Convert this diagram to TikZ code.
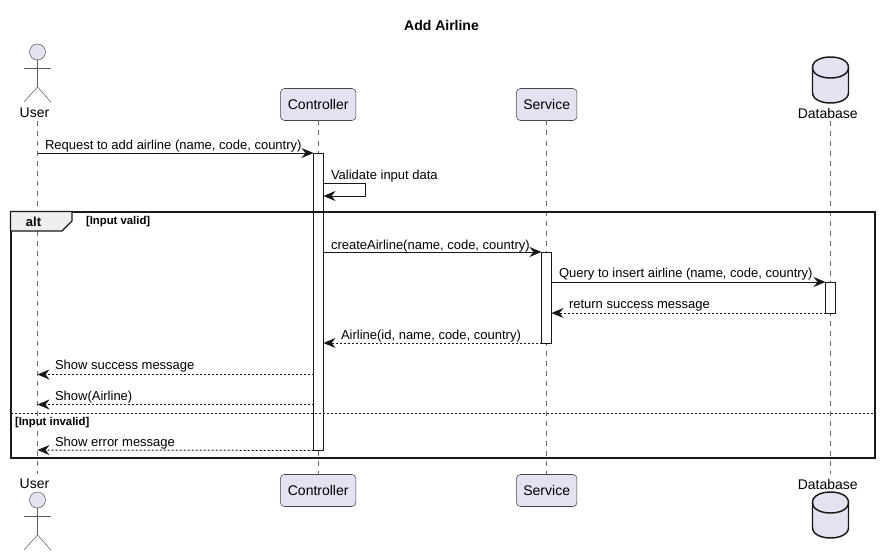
\documentclass[tikz,border=0pt]{standalone}
\usepackage{fontspec}
\setmainfont{Liberation Sans}
\usetikzlibrary{arrows.meta}
\definecolor{pfill}{HTML}{E2E2F0}
\definecolor{pline}{HTML}{181818}
\definecolor{tabfill}{HTML}{EEEEEE}
\newcommand{\msgfont}{\fontsize{9.75}{11}\selectfont}
\newcommand{\partfont}{\fontsize{10.5}{12}\selectfont}
\newcommand{\boldfont}{\fontsize{8.5}{10}\selectfont\bfseries}
\tikzset{
  x=0.75pt,y=-0.75pt,
  every node/.style={inner sep=0pt,outer sep=0pt,text=black},
  part/.style={draw=pline!80,fill=pfill,rounded corners=3pt,line width=0.4pt,minimum height=24pt,font=\partfont},
  lbl/.style={font=\msgfont,anchor=base west},
  partlabel/.style={font=\partfont},
  life/.style={draw=pline!65,line width=0.4pt,dash pattern=on 3.75pt off 3.75pt},
  actv/.style={draw=pline,fill=white,line width=0.75pt,minimum width=7.5pt,anchor=north},
  sync/.style={draw=pline,line width=0.75pt,-{Stealth[length=9pt,width=7.5pt,inset=3pt]}},
  ret/.style={sync,dash pattern=on 1.5pt off 1.5pt},
  actorline/.style={draw=pline!70,line width=0.4pt},
  dbshape/.style={draw=pline,fill=pfill,line width=1.1pt},
  frameline/.style={draw=pline,line width=1.5pt},
}
\newcommand{\stick}[3]{% x, head y, name prefix
  \node[circle,draw=pline!70,fill=pfill,line width=0.4pt,minimum size=12pt] (#3) at (#1,#2) {};
  \draw[actorline] (#3.south) -- ++(0,27) -- ++(-13.5,15);
  \draw[actorline] (#3.south) ++(0,27) -- ++(13.5,15);
  \draw[actorline] (#1-13.5,#2+16) -- (#1+13.5,#2+16);
}
\newcommand{\cyl}[2]{% centre x, top y of body
  \draw[dbshape] (#1-18,#2+10.5) .. controls (#1-18,#2-3.5) and (#1+18,#2-3.5) .. (#1+18,#2+10.5)
    -- (#1+18,#2+35.5) .. controls (#1+18,#2+49.5) and (#1-18,#2+49.5) .. (#1-18,#2+35.5) -- cycle;
  \draw[dbshape,fill=none] (#1-18,#2+10.5) .. controls (#1-18,#2+24.5) and (#1+18,#2+24.5) .. (#1+18,#2+10.5);
}
\begin{document}
\begin{tikzpicture}
\useasboundingbox (0,0) rectangle (880,556);
\fill[white] (0,0) rectangle (880,556);
\node[font=\fontsize{10.5}{12}\selectfont\bfseries] (title) at (441.5,25) {Add Airline};

% participant labels and boxes
\node[partlabel] (Utop) at (34.5,113) {User};
\node[part,minimum width=56.6pt] (Ctop) at (318.2,104.5) {Controller};
\node[part,minimum width=45.4pt] (Stop) at (546.7,104.5) {Service};
\node[partlabel] (Dtop) at (827.8,113) {Database};
\node[partlabel] (Ubot) at (34.5,484) {User};
\node[part,minimum width=56.6pt] (Cbot) at (318.2,490.5) {Controller};
\node[part,minimum width=45.4pt] (Sbot) at (546.7,490.5) {Service};
\node[partlabel] (Dbot) at (827.8,484) {Database};

% lifelines
\coordinate (ul1) at (37.5,121); \coordinate (ul2) at (37.5,474);
\coordinate (dl1) at (830.5,121); \coordinate (dl2) at (830.5,474);
\draw[life] (ul1) -- (ul2);
\draw[life] (Ctop.south) -- (Cbot.north);
\draw[life] (Stop.south) -- (Sbot.north);
\draw[life] (dl1) -- (dl2);

% actors and databases
\stick{37.5}{52}{uhead}
\stick{37.5}{500}{uheadb}
\cyl{830.5}{57}
\cyl{830.5}{492}

% activations
\node[actv,minimum height=223pt] (Ca) at (318.5,153) {};
\node[actv,minimum height=68.25pt] (Sa) at (546.5,252) {};
\node[actv,minimum height=23.25pt] (Da) at (830.5,282) {};

% frame
\draw[frameline] (10.5,211.5) rectangle (875,458);
\draw[frameline,fill=tabfill,line width=1pt] (10.5,211.5) -- (72,211.5) -- (72,221) -- (62,231) -- (10.5,231) -- cycle;
\node[font=\fontsize{9.75}{11}\selectfont\bfseries] (alt) at (33.5,221.5) {alt};
\node[font=\boldfont,anchor=base west] (g1) at (86,224) {[Input valid]};
\coordinate (el) at (10.5,413.5); \coordinate (er) at (875,413.5);
\draw[draw=pline,line width=0.75pt,dash pattern=on 1.5pt off 1.5pt] (el) -- (er);
\node[font=\boldfont,anchor=base west] (g2) at (15,425) {[Input invalid]};

% messages
\coordinate (m1a) at (37.5,153);
\draw[sync] (m1a) -- (Ca.north west);
\node[lbl] (t1) at (45,149) {Request to add airline (name, code, country)};

\coordinate (m2a) at (323.5,183); \coordinate (m2b) at (365.5,183);
\coordinate (m2c) at (365.5,196); \coordinate (m2d) at (323.5,196);
\draw[sync] (m2a) -- (m2b) -- (m2c) -- (m2d);
\node[lbl] (t2) at (331,179) {Validate input data};

\coordinate (m3a) at (323.5,252);
\draw[sync] (m3a) -- (Sa.north west);
\node[lbl] (t3) at (331,249) {createAirline(name, code, country)};

\coordinate (m4a) at (551.5,282);
\draw[sync] (m4a) -- (Da.north west);
\node[lbl] (t4) at (559,277) {Query to insert airline (name, code, country)};

\coordinate (m5b) at (551.5,313);
\draw[ret] (Da.south west) -- (m5b);
\node[lbl] (t5) at (569,308) {return success message};

\coordinate (m6b) at (323.5,343);
\draw[ret] (Sa.south west) -- (m6b);
\node[lbl] (t6) at (341,339) {Airline(id, name, code, country)};

\coordinate (m7a) at (313.5,374.5); \coordinate (m7b) at (37.5,374.5);
\draw[ret] (m7a) -- (m7b);
\node[lbl] (t7) at (55,369) {Show success message};

\coordinate (m8a) at (313.5,404.5); \coordinate (m8b) at (37.5,404.5);
\draw[ret] (m8a) -- (m8b);
\node[lbl] (t8) at (55,400) {Show(Airline)};

\coordinate (m9b) at (37.5,450);
\draw[ret] (Ca.south west) -- (m9b);
\node[lbl] (t9) at (55,446) {Show error message};
\end{tikzpicture}
\end{document}
